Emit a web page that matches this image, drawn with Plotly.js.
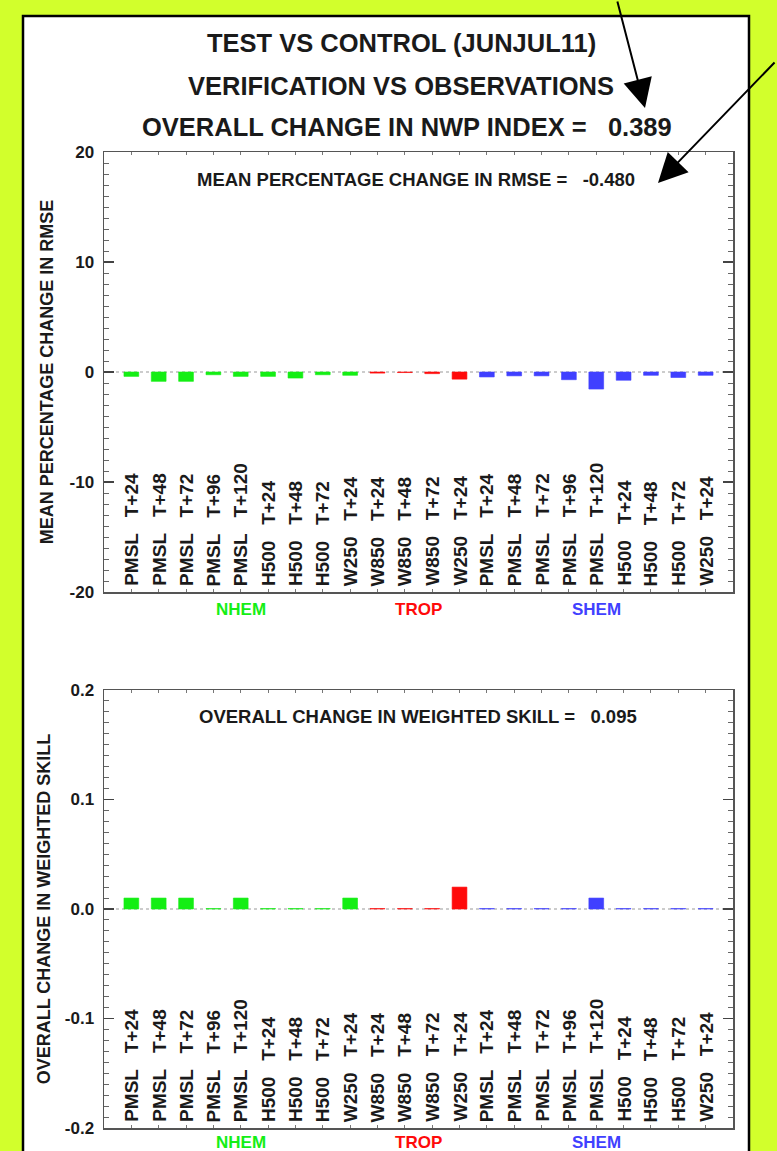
<!DOCTYPE html>
<html>
<head>
<meta charset="utf-8">
<script src="https://cdn.plot.ly/plotly-3.0.1.min.js"></script>
<style>
  html, body { margin: 0; padding: 0; background: #d2ff2c; }
  #chart { width: 777px; height: 1151px; }
</style>
</head>
<body>
<div id="chart"></div>
<script>
// ---------------- DATA ----------------
const variables = ["PMSL","PMSL","PMSL","PMSL","PMSL","H500","H500","H500","W250",
                   "W850","W850","W850","W250",
                   "PMSL","PMSL","PMSL","PMSL","PMSL","H500","H500","H500","W250"];
const leadTimes = ["T+24","T+48","T+72","T+96","T+120","T+24","T+48","T+72","T+24",
                   "T+24","T+48","T+72","T+24",
                   "T+24","T+48","T+72","T+96","T+120","T+24","T+48","T+72","T+24"];
const regions   = ["NHEM","NHEM","NHEM","NHEM","NHEM","NHEM","NHEM","NHEM","NHEM",
                   "TROP","TROP","TROP","TROP",
                   "SHEM","SHEM","SHEM","SHEM","SHEM","SHEM","SHEM","SHEM","SHEM"];
const regionNames  = ["NHEM","TROP","SHEM"];
const regionColors = ["#14ee14","#ff0a0a","#4040ff"];

// Mean percentage change in RMSE
const rmseChange  = [-0.40,-0.85,-0.85,-0.25,-0.40,-0.40,-0.55,-0.25,-0.30,
                     -0.10,-0.05,-0.15,-0.65,
                     -0.45,-0.35,-0.35,-0.70,-1.55,-0.75,-0.30,-0.50,-0.30];
// Overall change in weighted skill
const skillChange = [0.010,0.010,0.010,0.0004,0.010,0.0004,0.0004,0.0004,0.010,
                     0.0004,0.0004,0.0004,0.020,
                     0.0004,0.0004,0.0004,0.0004,0.010,0.0004,0.0004,0.0004,0.0004];

const titleLines = ["TEST VS CONTROL (JUNJUL11)", "VERIFICATION VS OBSERVATIONS"];
const nwpIndex = 0.389;
const meanRmseChange = -0.480;
const weightedSkillChange = 0.095;

const rmseTicks  = [-20,-10,0,10,20];
const skillTicks = [-0.2,-0.1,0.0,0.1,0.2];
const skillTickText = ["-0.2","-0.1","0.0","0.1","0.2"];

// ---------------- LAYOUT HELPERS ----------------
const W = 777, H = 1151;
const px = x => x / W;
const py = y => 1 - y / H;
const FONT = "Liberation Sans, Arial, Helvetica, sans-serif";
const INK = "#1a1a1a";
const SP = "\u00a0";

const idx = variables.map((_, i) => i);
const barColors = regions.map(r => regionColors[regionNames.indexOf(r)]);
const labels = variables.map((v, i) => v + SP + SP + SP + leadTimes[i]);

function barTrace(values, xa, ya) {
  return {
    type: "bar", x: idx, y: values, xaxis: xa, yaxis: ya,
    width: 0.54,
    marker: { color: barColors, line: { color: barColors, width: 0.6 } },
    hoverinfo: "skip", showlegend: false
  };
}

function xAxis(anchor) {
  return {
    domain: [px(104), px(733)], anchor: anchor, range: [-1, 22],
    showticklabels: false, showgrid: false, zeroline: false,
    ticks: "inside", tickvals: [-1].concat(idx, [22]), ticklen: 3, tickcolor: "#777",
    showline: true, linecolor: "#555", linewidth: 1.5, mirror: "ticks",
    fixedrange: true
  };
}

function yAxis(anchor, domain, range, tickvals, ticktext, minorDtick, title, standoff) {
  return {
    domain: domain, anchor: anchor, range: range,
    tickvals: tickvals, ticktext: ticktext,
    ticks: "inside", ticklen: 10, tickwidth: 1.2, tickcolor: "#444",
    minor: { dtick: minorDtick, ticks: "inside", ticklen: 5, tickcolor: "#666", tickwidth: 1, showgrid: false },
    showline: true, linecolor: "#555", linewidth: 1.5, mirror: "ticks",
    showgrid: false, zeroline: false,
    tickfont: { family: FONT, size: 17, color: INK, weight: "bold" },
    ticklabelstandoff: 5,
    title: { text: title, font: { family: FONT, size: 18, color: INK, weight: "bold" }, standoff: standoff },
    fixedrange: true
  };
}

const topY = [py(592), py(152)];
const botY = [py(1128), py(690)];
const BOLD = (size, color) => ({ family: FONT, size: size, color: color || INK, weight: "bold" });

const annotations = [];
// Main titles
titleLines.forEach((t, i) => {
  annotations.push({ xref: "paper", yref: "paper", x: px(401), y: py([43, 86][i]),
    text: t, showarrow: false, xanchor: "center", yanchor: "middle", font: BOLD(25.5) });
});
annotations.push({ xref: "paper", yref: "paper", x: px(407), y: py(127),
  text: "OVERALL CHANGE IN NWP INDEX =" + SP + SP + SP + nwpIndex.toFixed(3), showarrow: false,
  xanchor: "center", yanchor: "middle", font: BOLD(25.5) });

// Subtitles inside plots
annotations.push({ xref: "x domain", yref: "y domain", x: (416 - 104) / 629, y: (592 - 180) / 440,
  text: "MEAN PERCENTAGE CHANGE IN RMSE =" + SP + SP + SP + meanRmseChange.toFixed(3), showarrow: false,
  xanchor: "center", yanchor: "middle", font: BOLD(18.5) });
annotations.push({ xref: "x2 domain", yref: "y2 domain", x: (418 - 104) / 629, y: (1128 - 716) / 438,
  text: "OVERALL CHANGE IN WEIGHTED SKILL =" + SP + SP + SP + weightedSkillChange.toFixed(3), showarrow: false,
  xanchor: "center", yanchor: "middle", font: BOLD(18.5) });

// Category labels (rotated, inside plot bottom) and region labels
[["x", "y", 440, -17], ["x2", "y2", 438, -14]].forEach(([xa, ya, h, off]) => {
  labels.forEach((lab, i) => {
    annotations.push({ xref: xa, yref: ya + " domain", x: i, y: 4 / h,
      text: lab, textangle: -90, showarrow: false,
      xanchor: "center", yanchor: "bottom", font: BOLD(19) });
  });
  regionNames.forEach((r, j) => {
    const members = idx.filter(i => regions[i] === r);
    const mid = (members[0] + members[members.length - 1]) / 2;
    annotations.push({ xref: xa, yref: ya + " domain", x: mid, y: off / h,
      text: r, showarrow: false, xanchor: "center", yanchor: "middle",
      font: BOLD(17, regionColors[j]) });
  });
});

// Arrows pointing at the summary numbers
annotations.push({ xref: "paper", yref: "paper", x: px(645), y: py(108), text: "",
  showarrow: true, arrowhead: 2, arrowsize: 2.9, arrowwidth: 2, arrowcolor: "#000",
  ax: -28, ay: -108, standoff: 0 });
annotations.push({ xref: "paper", yref: "paper", x: px(658), y: py(183), text: "",
  showarrow: true, arrowhead: 2, arrowsize: 2.9, arrowwidth: 2, arrowcolor: "#000",
  ax: 118, ay: -122, standoff: 0 });

const shapes = [
  { type: "rect", xref: "paper", yref: "paper", x0: px(23), x1: px(749), y0: -0.05, y1: py(16),
    fillcolor: "#ffffff", line: { color: "#000", width: 2.5 }, layer: "below" },
  { type: "line", xref: "x domain", yref: "y", x0: 0, x1: 1, y0: 0, y1: 0,
    line: { color: "#999", width: 1, dash: "dot" }, layer: "below" },
  { type: "line", xref: "x2 domain", yref: "y2", x0: 0, x1: 1, y0: 0, y1: 0,
    line: { color: "#999", width: 1, dash: "dot" }, layer: "below" }
];

const layout = {
  width: W, height: H,
  margin: { l: 0, r: 0, t: 0, b: 0 },
  paper_bgcolor: "#d2ff2c",
  plot_bgcolor: "rgba(0,0,0,0)",
  font: { family: FONT, color: INK },
  xaxis: xAxis("y"),
  yaxis: yAxis("x", topY, [-20, 20], rmseTicks, rmseTicks.map(String), 1, "MEAN PERCENTAGE CHANGE IN RMSE", 11),
  xaxis2: xAxis("y2"),
  yaxis2: yAxis("x2", botY, [-0.2, 0.2], skillTicks, skillTickText, 0.01, "OVERALL CHANGE IN WEIGHTED SKILL", 9),
  annotations: annotations,
  shapes: shapes
};

Plotly.newPlot("chart", [barTrace(rmseChange, "x", "y"), barTrace(skillChange, "x2", "y2")], layout,
  { staticPlot: true, displayModeBar: false });
</script>
</body>
</html>
